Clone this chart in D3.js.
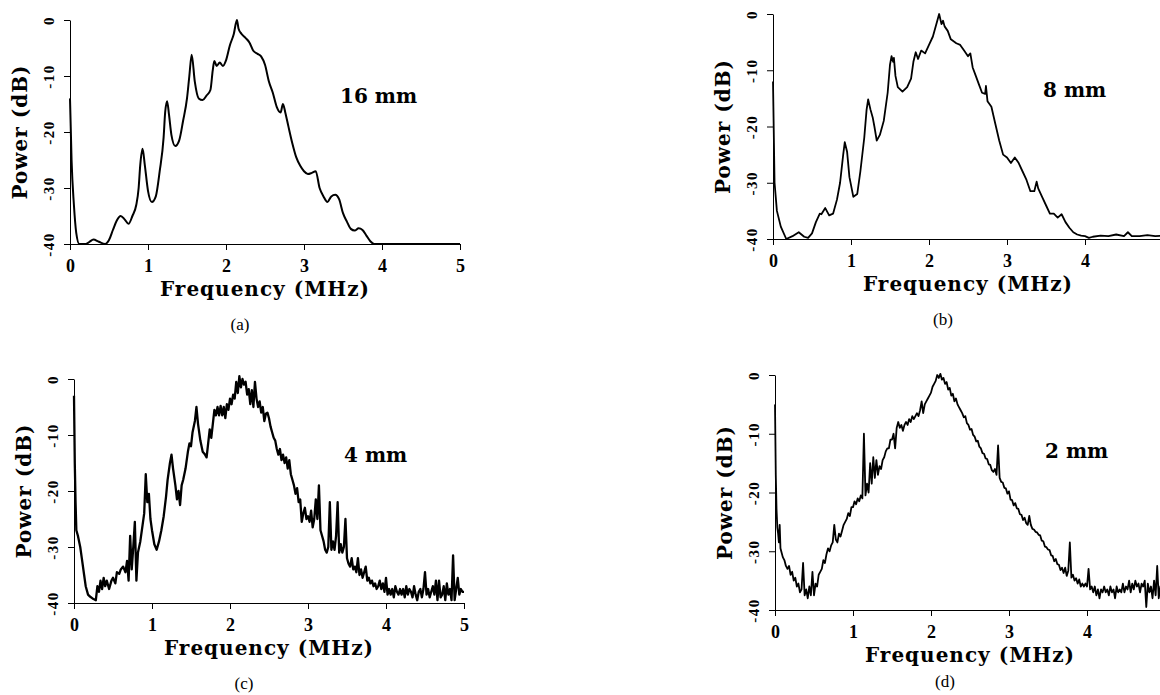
<!DOCTYPE html>
<html>
<head>
<meta charset="utf-8">
<script src="https://cdn.jsdelivr.net/npm/d3@7"></script>
<style>
  body { margin: 0; background: #fff; }
  .axis path, .axis line { stroke: #000; stroke-width: 1; }
  .tick text { font-family: "Liberation Serif", serif; font-weight: bold; fill: #000; }
</style>
</head>
<body>
<svg id="chart" width="1160" height="695"></svg>
<script>
// ---- data ----
const freqTicks = [0, 1, 2, 3, 4, 5];
const freqTicksCut = [0, 1, 2, 3, 4];   // right-hand panels are cropped before 5
const powerTicks = [0, -10, -20, -30, -40];
const distanceLabels = ["16 mm", "8 mm", "4 mm", "2 mm"];
const captionLabels = ["(a)", "(b)", "(c)", "(d)"];
const xTitle = "Frequency (MHz)";
const yTitle = "Power (dB)";

// [MHz, dB]
const spectrum16mm = [
  [0,-14],[0.02,-25],[0.05,-33],[0.08,-38],[0.12,-40],[0.2,-40],[0.25,-39.6],[0.3,-39.2],
  [0.37,-39.6],[0.45,-40],[0.5,-39.3],[0.55,-37.5],[0.6,-35.8],[0.65,-35],[0.7,-35.6],
  [0.75,-36.4],[0.8,-35],[0.85,-33],[0.88,-30],[0.9,-26],[0.93,-23],[0.96,-26],[1.0,-30.5],
  [1.05,-32.5],[1.1,-31.5],[1.15,-27],[1.2,-21],[1.22,-16.5],[1.245,-14.5],[1.27,-17],
  [1.3,-20.5],[1.35,-22.5],[1.4,-21.5],[1.45,-18],[1.5,-14],[1.53,-10],[1.56,-6.2],
  [1.6,-11],[1.65,-14],[1.7,-14.3],[1.75,-13.5],[1.8,-12.5],[1.83,-9],[1.85,-7.3],
  [1.88,-8.2],[1.92,-7.6],[1.96,-8.2],[2.0,-7.2],[2.05,-4.5],[2.1,-2.5],[2.14,0],
  [2.16,-1.5],[2.2,-2.5],[2.25,-3.2],[2.3,-4],[2.35,-5.5],[2.4,-6],[2.45,-6.5],[2.5,-8],
  [2.55,-11],[2.6,-13],[2.65,-15.5],[2.7,-16.5],[2.73,-15],[2.76,-16.5],[2.8,-19],
  [2.85,-22],[2.9,-24.5],[2.95,-26],[3.0,-27],[3.05,-27.5],[3.1,-27.3],[3.15,-27],
  [3.2,-30],[3.25,-31.5],[3.3,-32.5],[3.35,-31.5],[3.4,-31.2],[3.45,-32],[3.5,-34.5],
  [3.55,-36],[3.6,-37.3],[3.65,-37.6],[3.7,-37.2],[3.75,-37.5],[3.8,-38.5],[3.85,-39.5],
  [3.9,-40],[5,-40]
];

const spectrum8mm = [
  [0,-12],[0.02,-30],[0.05,-35],[0.1,-37.8],[0.17,-40],[0.25,-39.5],[0.33,-38.8],[0.4,-39.6],
  [0.45,-39.8],[0.5,-39],[0.55,-37],[0.6,-35.5],[0.62,-35.6],[0.67,-34.5],[0.72,-35.8],
  [0.77,-35.5],[0.82,-33],[0.86,-30],[0.9,-25],[0.92,-22.8],[0.95,-24.5],[0.98,-29],
  [1.03,-32.5],[1.08,-32],[1.12,-28],[1.17,-22],[1.2,-17],[1.22,-15.2],[1.25,-17],
  [1.28,-18.5],[1.3,-20],[1.33,-22.5],[1.37,-21.5],[1.42,-19],[1.47,-14],[1.5,-9],
  [1.52,-7.5],[1.54,-8.5],[1.55,-7.8],[1.57,-11],[1.6,-13],[1.66,-13.8],[1.72,-13],
  [1.77,-11.5],[1.8,-8.5],[1.83,-6.8],[1.86,-8],[1.9,-6.5],[1.95,-7],[2.0,-5.5],[2.05,-4],
  [2.1,-1.5],[2.13,0],[2.16,-1.8],[2.18,-1.2],[2.2,-2.2],[2.24,-3],[2.28,-4.5],[2.35,-5.2],
  [2.4,-5.5],[2.45,-6.5],[2.5,-7.5],[2.53,-7],[2.56,-9.5],[2.6,-11],[2.64,-12.5],
  [2.68,-14],[2.72,-14.2],[2.73,-12.8],[2.75,-15.5],[2.8,-16.5],[2.85,-19.5],[2.9,-22.5],
  [2.95,-25],[3.0,-25.5],[3.05,-26.5],[3.1,-25.5],[3.15,-26.5],[3.2,-28],[3.25,-29.5],
  [3.3,-31.5],[3.35,-31.5],[3.38,-29.8],[3.4,-31],[3.45,-32.5],[3.5,-34],[3.55,-35.5],
  [3.6,-35.5],[3.65,-36.2],[3.7,-35.6],[3.75,-37],[3.8,-38],[3.85,-38.8],[3.9,-39.2],
  [3.95,-39.4],[4.0,-39.5],[4.05,-39.8],[4.1,-39.6],[4.2,-39.4],[4.3,-39.5],[4.4,-39.2],
  [4.5,-39.5],[4.55,-38.8],[4.6,-39.5],[4.7,-39.5],[4.8,-39.3],[4.9,-39.5],[5.0,-39.4]
];

const spectrum4mm = [
  [0,-3],[0.01,-15],[0.02,-22],[0.03,-27],[0.05,-28],[0.08,-30],[0.1,-32],[0.13,-35],
  [0.15,-37],[0.18,-38.5],[0.2,-38.8],[0.25,-39.3],[0.28,-39.5],[0.3,-37],[0.32,-38],
  [0.34,-36],[0.36,-37.5],[0.38,-35.5],[0.4,-37],[0.42,-36],[0.45,-37.5],[0.48,-36],
  [0.5,-35.5],[0.53,-36.5],[0.55,-34.5],[0.58,-34.8],[0.6,-34],[0.63,-33.5],[0.66,-34.5],
  [0.68,-32.5],[0.7,-36],[0.72,-28],[0.74,-34],[0.76,-30],[0.78,-25.5],[0.8,-36],
  [0.82,-31],[0.85,-29],[0.88,-26],[0.9,-24],[0.92,-17],[0.94,-22],[0.96,-20.5],
  [0.98,-25],[1.0,-27],[1.03,-29.5],[1.06,-30.5],[1.09,-29],[1.12,-27],[1.15,-24.5],
  [1.18,-21],[1.2,-18],[1.23,-15],[1.25,-13.5],[1.27,-16],[1.3,-19],[1.32,-21.5],
  [1.34,-20],[1.36,-22.5],[1.38,-19],[1.4,-18],[1.43,-16],[1.46,-13],[1.48,-11.5],
  [1.5,-12],[1.52,-9.5],[1.55,-7.5],[1.57,-5],[1.59,-8],[1.62,-11],[1.65,-13],[1.68,-13.5],
  [1.7,-14],[1.72,-11.5],[1.74,-9],[1.76,-10.5],[1.78,-8],[1.8,-5.5],[1.82,-6.5],
  [1.84,-5],[1.86,-6.5],[1.88,-4.8],[1.9,-6.5],[1.92,-5],[1.94,-7],[1.96,-4.5],[1.98,-5.5],
  [2.0,-3.5],[2.02,-4.5],[2.04,-2.8],[2.06,-3.5],[2.08,-0.5],[2.1,-2.5],[2.12,0.5],
  [2.14,-1.5],[2.16,0],[2.18,-1],[2.2,-0.5],[2.22,-2.8],[2.24,-1.8],[2.26,-4.5],[2.28,-2],
  [2.3,-5],[2.32,-0.5],[2.34,-3.5],[2.36,-5],[2.38,-4],[2.4,-6],[2.42,-5],[2.44,-7.5],
  [2.46,-6.2],[2.48,-6],[2.5,-7],[2.52,-8.5],[2.54,-9.5],[2.56,-10.5],[2.58,-11],
  [2.6,-12.5],[2.62,-13.5],[2.64,-12.5],[2.66,-14.5],[2.68,-13.5],[2.7,-15],[2.72,-14],
  [2.74,-16],[2.76,-14.5],[2.78,-17],[2.8,-18],[2.82,-19],[2.84,-20.5],[2.86,-19.5],
  [2.88,-22],[2.9,-21.5],[2.92,-25.5],[2.94,-24],[2.96,-23],[2.98,-25],[3.0,-24.5],
  [3.02,-25.5],[3.04,-23.5],[3.06,-26.5],[3.08,-25],[3.1,-21.5],[3.12,-25],[3.14,-19],
  [3.16,-27],[3.18,-28],[3.2,-29],[3.22,-30.5],[3.24,-31],[3.26,-30],[3.28,-22],
  [3.3,-30.5],[3.32,-29],[3.34,-30.5],[3.36,-28],[3.38,-22],[3.4,-31],[3.42,-29.5],
  [3.44,-31],[3.46,-30],[3.48,-25],[3.5,-32],[3.52,-33],[3.54,-33.5],[3.56,-32],
  [3.58,-34],[3.6,-33.5],[3.62,-34.5],[3.64,-32],[3.66,-35],[3.68,-34],[3.7,-35.5],
  [3.72,-34.5],[3.74,-33.5],[3.76,-36],[3.78,-35.5],[3.8,-36.5],[3.82,-36],[3.84,-37],
  [3.86,-36.5],[3.88,-37.5],[3.9,-37],[3.92,-36],[3.94,-37.5],[3.96,-36.5],[3.98,-38],
  [4.0,-35.5],[4.02,-38.5],[4.04,-37.5],[4.06,-38.5],[4.08,-37.5],[4.1,-39],[4.12,-37],
  [4.14,-38],[4.16,-38.5],[4.18,-37.5],[4.2,-38.5],[4.22,-37.5],[4.24,-39],[4.26,-37],
  [4.28,-38.5],[4.3,-37.5],[4.32,-38],[4.34,-39],[4.36,-37],[4.38,-38.5],[4.4,-39.5],
  [4.42,-38],[4.44,-37.5],[4.46,-39],[4.48,-37.5],[4.5,-34.5],[4.52,-38.5],[4.54,-37.5],
  [4.56,-39],[4.58,-38],[4.6,-37],[4.62,-38.5],[4.64,-36],[4.66,-39.5],[4.68,-36],
  [4.7,-39],[4.72,-38.5],[4.74,-37],[4.76,-39.5],[4.78,-36.5],[4.8,-38.5],[4.82,-37.5],
  [4.84,-39.5],[4.86,-31.5],[4.88,-39.5],[4.9,-37.5],[4.92,-35.5],[4.94,-38.5],
  [4.96,-37.5],[4.98,-38],[5.0,-38]
];

const spectrum2mm = [
  [0,-5],[0.01,-17],[0.02,-23],[0.03,-26],[0.04,-27],[0.05,-28.5],[0.06,-25.5],[0.07,-29.5],
  [0.08,-30],[0.1,-31],[0.12,-31.5],[0.14,-32.5],[0.16,-33],[0.18,-32.5],[0.2,-34],
  [0.22,-33.5],[0.24,-35],[0.26,-34.5],[0.28,-36],[0.3,-35.5],[0.32,-37],[0.34,-36.5],
  [0.36,-32],[0.38,-37.5],[0.4,-36.5],[0.42,-38],[0.44,-36],[0.46,-37.5],[0.48,-33.5],
  [0.5,-37.5],[0.52,-35.5],[0.54,-36],[0.56,-34],[0.58,-33.5],[0.6,-33],[0.62,-31.5],
  [0.64,-32],[0.66,-30.5],[0.68,-29.5],[0.7,-30],[0.72,-29],[0.74,-28.5],[0.76,-25.5],
  [0.78,-28],[0.8,-28.5],[0.82,-27],[0.84,-27.5],[0.86,-26.5],[0.88,-25.5],[0.9,-25],
  [0.92,-24.5],[0.94,-23.5],[0.96,-24],[0.98,-22.5],[1.0,-22.5],[1.02,-21.5],[1.04,-22],
  [1.06,-21],[1.08,-21.5],[1.1,-20.5],[1.12,-21],[1.14,-10],[1.16,-20.5],[1.18,-18.5],
  [1.2,-20],[1.22,-15],[1.24,-18.5],[1.26,-14],[1.28,-17.5],[1.3,-14.5],[1.32,-17],
  [1.34,-15.5],[1.36,-16],[1.38,-14.5],[1.4,-14],[1.42,-13],[1.44,-12.5],[1.46,-12.5],
  [1.48,-11],[1.5,-11],[1.52,-10],[1.54,-12.5],[1.56,-9],[1.58,-8],[1.6,-9],[1.62,-8.5],
  [1.64,-9.5],[1.66,-8.5],[1.68,-8],[1.7,-8.5],[1.72,-7.5],[1.74,-8],[1.76,-7],[1.78,-7.5],
  [1.8,-7],[1.82,-6.5],[1.84,-7],[1.86,-6],[1.88,-4.5],[1.9,-6.5],[1.92,-5],[1.94,-4.5],
  [1.96,-4],[1.98,-3.5],[2.0,-3],[2.02,-2],[2.04,-1.5],[2.06,-1],[2.08,0],[2.1,-0.5],
  [2.12,0.2],[2.14,-0.8],[2.16,-0.5],[2.18,-1.5],[2.2,-1.2],[2.22,-2.5],[2.24,-2.2],
  [2.26,-3.5],[2.28,-3.2],[2.3,-4.5],[2.32,-4],[2.34,-5],[2.36,-5.5],[2.38,-6],[2.4,-6.5],
  [2.42,-7.2],[2.44,-7],[2.46,-8.2],[2.48,-8.5],[2.5,-9.3],[2.52,-9.2],[2.54,-10.2],
  [2.56,-10.5],[2.58,-11.3],[2.6,-11.2],[2.62,-12.2],[2.64,-12.5],[2.66,-13.3],[2.68,-13.4],
  [2.7,-14.2],[2.72,-14.3],[2.74,-15.2],[2.76,-15.3],[2.78,-16.2],[2.8,-16.5],[2.82,-16],
  [2.84,-17],[2.86,-12],[2.88,-17.5],[2.9,-18.2],[2.92,-18.3],[2.94,-19.2],[2.96,-19.3],
  [2.98,-20.2],[3.0,-19.8],[3.02,-21.2],[3.04,-21.3],[3.06,-22.2],[3.08,-21.8],[3.1,-22.7],
  [3.12,-22.8],[3.14,-23.7],[3.16,-23.8],[3.18,-24.7],[3.2,-24.3],[3.22,-25.2],[3.24,-25.5],
  [3.26,-24],[3.28,-25.5],[3.3,-26.2],[3.32,-26.3],[3.34,-26.7],[3.36,-26.8],[3.38,-27.2],
  [3.4,-27.3],[3.42,-28.2],[3.44,-28.3],[3.46,-29.2],[3.48,-29.3],[3.5,-29.7],[3.52,-29.8],
  [3.54,-30.7],[3.56,-30.8],[3.58,-31.7],[3.6,-31.3],[3.62,-32.2],[3.64,-32.3],[3.66,-33.2],
  [3.68,-32.8],[3.7,-33.7],[3.72,-32.8],[3.74,-34.2],[3.76,-33.3],[3.78,-28.5],[3.8,-34.5],
  [3.82,-34],[3.84,-35],[3.86,-34.6],[3.88,-35.5],[3.9,-34.8],[3.92,-36],[3.94,-35.5],
  [3.96,-36],[3.98,-35.5],[4.0,-36],[4.02,-33],[4.04,-36.5],[4.06,-36],[4.08,-37],[4.1,-36],
  [4.12,-37.5],[4.14,-36.5],[4.16,-38],[4.18,-36.5],[4.2,-37],[4.22,-36],[4.24,-37],
  [4.26,-36.5],[4.28,-37.5],[4.3,-36],[4.32,-37],[4.34,-36.5],[4.36,-38],[4.38,-36],
  [4.4,-37],[4.42,-36.5],[4.44,-37],[4.46,-35.5],[4.48,-37],[4.5,-36],[4.52,-36.5],
  [4.54,-35],[4.56,-37],[4.58,-35.5],[4.6,-36.5],[4.62,-35],[4.64,-36],[4.66,-35.5],
  [4.68,-37],[4.7,-35.5],[4.72,-36],[4.74,-35],[4.76,-39.5],[4.78,-35.5],[4.8,-37],
  [4.82,-36],[4.84,-38],[4.86,-35],[4.88,-37.5],[4.9,-32.5],[4.92,-38],[4.94,-36],
  [4.96,-37],[4.98,-36.5],[5.0,-37]
];

// ---- layout ----
const svg = d3.select("#chart");
const plotW = 390;
const serifBold = "'DejaVu Serif', serif";

const panels = [
  { data: spectrum16mm, ticks: freqTicks,    left: 70,  top: 20,  h: 224, cap: 86, stroke: 2,   curve: d3.curveMonotoneX },
  { data: spectrum8mm,  ticks: freqTicksCut, left: 773, top: 14,  h: 225, cap: 86, stroke: 1.8, curve: d3.curveLinear },
  { data: spectrum4mm,  ticks: freqTicks,    left: 74,  top: 379, h: 224, cap: 86, stroke: 2.3, curve: d3.curveLinear },
  { data: spectrum2mm,  ticks: freqTicksCut, left: 775, top: 375, h: 235, cap: 77, stroke: 1.8, curve: d3.curveLinear }
];

panels.forEach((p, i) => {
  const g = svg.append("g").attr("transform", `translate(${p.left},${p.top})`);
  const plotH = p.h;

  const x = d3.scaleLinear().domain([0, 5]).range([0, plotW]);
  const y = d3.scaleLinear().domain([-40, 0]).range([plotH, 0]);

  // x axis
  const xa = g.append("g").attr("class", "axis")
    .attr("transform", `translate(0,${plotH})`)
    .call(d3.axisBottom(x).tickValues(p.ticks).tickSize(6).tickSizeOuter(0).tickFormat(d3.format("d")));
  xa.selectAll(".tick text")
    .attr("y", 28).attr("dy", 0)
    .style("font-size", "18px");

  // y axis, labels turned sideways
  const ya = g.append("g").attr("class", "axis")
    .call(d3.axisLeft(y).tickValues(powerTicks).tickSize(6).tickSizeOuter(0)
      .tickFormat(d => d === 0 ? "0" : "-" + Math.abs(d)));
  ya.selectAll(".tick text")
    .attr("transform", "rotate(-90)")
    .attr("x", 0).attr("y", -16).attr("dy", 0)
    .attr("text-anchor", "middle")
    .style("font-size", "15px")
    .style("letter-spacing", "1.5px");

  // spectrum trace
  const line = d3.line().x(d => x(d[0])).y(d => y(d[1])).curve(p.curve);
  g.append("path")
    .datum(p.data)
    .attr("d", line)
    .attr("fill", "none")
    .attr("stroke", "#000")
    .attr("stroke-width", p.stroke)
    .attr("stroke-linejoin", "round");

  // titles
  g.append("text")
    .attr("x", x(2.5)).attr("y", plotH + 52)
    .attr("text-anchor", "middle")
    .style("font-family", serifBold).style("font-weight", "bold")
    .style("font-size", "20px").style("letter-spacing", "1px")
    .text(xTitle);

  g.append("text")
    .attr("transform", `translate(-43,${plotH / 2}) rotate(-90)`)
    .attr("text-anchor", "middle")
    .style("font-family", serifBold).style("font-weight", "bold")
    .style("font-size", "20px").style("letter-spacing", "1px")
    .text(yTitle);

  g.append("text")
    .attr("x", 270).attr("y", 83)
    .style("font-family", serifBold).style("font-weight", "bold")
    .style("font-size", "20px")
    .text(distanceLabels[i]);

  g.append("text")
    .attr("x", x(2.5) - 25).attr("y", plotH + p.cap)
    .attr("text-anchor", "middle")
    .style("font-family", "'Liberation Serif', serif")
    .style("font-size", "17px")
    .text(captionLabels[i]);
});
</script>
</body>
</html>
